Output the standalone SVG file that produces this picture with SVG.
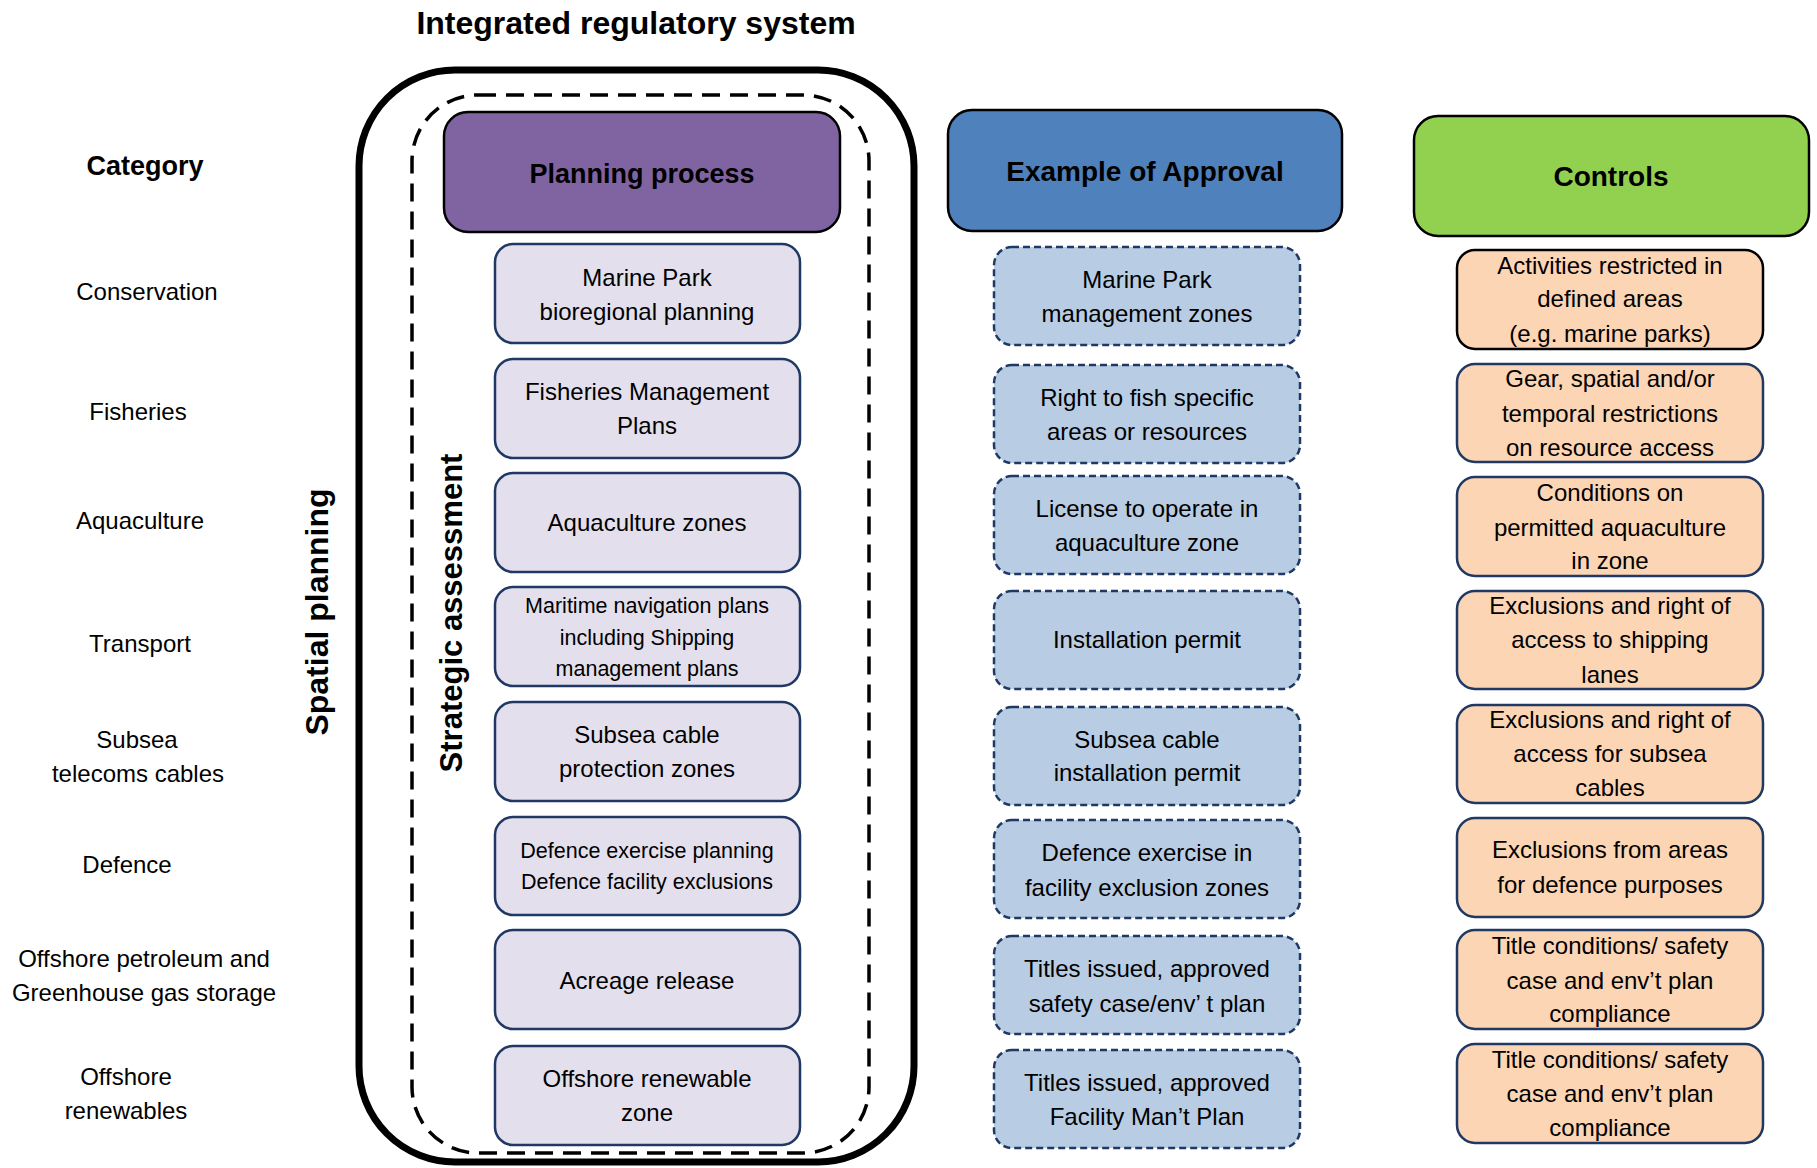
<svg xmlns="http://www.w3.org/2000/svg" width="1817" height="1168" viewBox="0 0 1817 1168">
<style>
text{font-family:"Liberation Sans",Arial,sans-serif;fill:#000;text-anchor:middle}
.b{font-weight:bold}
.t{font-size:24px}
.s{font-size:21.5px}
.c{font-size:24px}
.h{font-size:28px;font-weight:bold}
.proc{fill:#E4DFEC;stroke:#1F3864;stroke-width:2.5}
.appr{fill:#B8CCE4;stroke:#1F3864;stroke-width:2.5;stroke-dasharray:7 4}
.ctrl{fill:#FCD5B4;stroke:#1F3864;stroke-width:2.5}
.hdr{stroke:#000;stroke-width:2.5}
</style>
<rect width="1817" height="1168" fill="#fff"/>
<text x="636" y="34" class="b" style="font-size:32px">Integrated regulatory system</text>
<g id="outer-system"><rect x="359" y="70" width="555" height="1092" rx="96" fill="none" stroke="#000" stroke-width="7"/></g>
<g id="strategic-assessment-frame"><rect x="412" y="95" width="457" height="1058" rx="66" fill="none" stroke="#000" stroke-width="3.5" stroke-dasharray="18 10"/></g>
<g id="spatial-planning-label"><text transform="translate(328 612) rotate(-90)" class="b" style="font-size:32px">Spatial planning</text></g>
<g id="strategic-assessment-label"><text transform="translate(462 613) rotate(-90)" class="b" style="font-size:31px">Strategic assessment</text></g>

<g id="categories">
<text x="145" y="175" class="b" style="font-size:27px">Category</text>
<text x="147" y="300" class="c">Conservation</text>
<text x="138" y="420" class="c">Fisheries</text>
<text x="140" y="529" class="c">Aquaculture</text>
<text x="140" y="652" class="c">Transport</text>
<text x="137" y="748" class="c">Subsea</text>
<text x="138" y="782" class="c">telecoms cables</text>
<text x="127" y="873" class="c">Defence</text>
<text x="144" y="967" class="c">Offshore petroleum and</text>
<text x="144" y="1001" class="c">Greenhouse gas storage</text>
<text x="126" y="1085" class="c">Offshore</text>
<text x="126" y="1119" class="c">renewables</text>
</g>

<g id="planning-process-header"><rect x="444" y="112" width="396" height="120" rx="24" fill="#8064A2" class="hdr"/><text x="642" y="183" class="b" style="font-size:27px">Planning process</text></g>
<g id="approval-header"><rect x="948" y="110" width="394" height="121" rx="24" fill="#4F81BD" class="hdr"/><text x="1145" y="181" class="h">Example of Approval</text></g>
<g id="controls-header"><rect x="1414" y="116" width="395" height="120" rx="24" fill="#92D050" class="hdr"/><text x="1611" y="186" class="h">Controls</text></g>

<g id="proc-1"><rect x="495" y="244" width="305" height="99" rx="18" class="proc"/><text x="647" y="286" class="t">Marine Park</text><text x="647" y="320" class="t">bioregional planning</text></g>
<g id="proc-2"><rect x="495" y="359" width="305" height="99" rx="18" class="proc"/><text x="647" y="400" class="t">Fisheries Management</text><text x="647" y="434" class="t">Plans</text></g>
<g id="proc-3"><rect x="495" y="473" width="305" height="99" rx="18" class="proc"/><text x="647" y="531" class="t">Aquaculture zones</text></g>
<g id="proc-4"><rect x="495" y="587" width="305" height="99" rx="18" class="proc"/><text x="647" y="613" class="s">Maritime navigation plans</text><text x="647" y="645" class="s">including Shipping</text><text x="647" y="676" class="s">management plans</text></g>
<g id="proc-5"><rect x="495" y="702" width="305" height="99" rx="18" class="proc"/><text x="647" y="743" class="t">Subsea cable</text><text x="647" y="777" class="t">protection zones</text></g>
<g id="proc-6"><rect x="495" y="817" width="305" height="98" rx="18" class="proc"/><text x="647" y="858" class="s">Defence exercise planning</text><text x="647" y="889" class="s">Defence facility exclusions</text></g>
<g id="proc-7"><rect x="495" y="930" width="305" height="99" rx="18" class="proc"/><text x="647" y="989" class="t">Acreage release</text></g>
<g id="proc-8"><rect x="495" y="1046" width="305" height="99" rx="18" class="proc"/><text x="647" y="1087" class="t">Offshore renewable</text><text x="647" y="1121" class="t">zone</text></g>

<g id="appr-1"><rect x="994" y="247" width="306" height="98" rx="18" class="appr"/><text x="1147" y="288" class="t">Marine Park</text><text x="1147" y="322" class="t">management zones</text></g>
<g id="appr-2"><rect x="994" y="365" width="306" height="98" rx="18" class="appr"/><text x="1147" y="406" class="t">Right to fish specific</text><text x="1147" y="440" class="t">areas or resources</text></g>
<g id="appr-3"><rect x="994" y="476" width="306" height="98" rx="18" class="appr"/><text x="1147" y="517" class="t">License to operate in</text><text x="1147" y="551" class="t">aquaculture zone</text></g>
<g id="appr-4"><rect x="994" y="591" width="306" height="98" rx="18" class="appr"/><text x="1147" y="648" class="t">Installation permit</text></g>
<g id="appr-5"><rect x="994" y="707" width="306" height="98" rx="18" class="appr"/><text x="1147" y="748" class="t">Subsea cable</text><text x="1147" y="781" class="t">installation permit</text></g>
<g id="appr-6"><rect x="994" y="820" width="306" height="98" rx="18" class="appr"/><text x="1147" y="861" class="t">Defence exercise in</text><text x="1147" y="896" class="t">facility exclusion zones</text></g>
<g id="appr-7"><rect x="994" y="936" width="306" height="98" rx="18" class="appr"/><text x="1147" y="977" class="t">Titles issued, approved</text><text x="1147" y="1012" class="t">safety case/env’ t plan</text></g>
<g id="appr-8"><rect x="994" y="1050" width="306" height="98" rx="18" class="appr"/><text x="1147" y="1091" class="t">Titles issued, approved</text><text x="1147" y="1125" class="t">Facility Man’t Plan</text></g>

<g id="ctrl-1"><rect x="1457" y="250" width="306" height="99" rx="18" class="ctrl" style="stroke:#000"/><text x="1610" y="274" class="t">Activities restricted in</text><text x="1610" y="307" class="t">defined areas</text><text x="1610" y="342" class="t">(e.g. marine parks)</text></g>
<g id="ctrl-2"><rect x="1457" y="364" width="306" height="98" rx="18" class="ctrl"/><text x="1610" y="387" class="t">Gear, spatial and/or</text><text x="1610" y="422" class="t">temporal restrictions</text><text x="1610" y="456" class="t">on resource access</text></g>
<g id="ctrl-3"><rect x="1457" y="477" width="306" height="99" rx="18" class="ctrl"/><text x="1610" y="501" class="t">Conditions on</text><text x="1610" y="536" class="t">permitted aquaculture</text><text x="1610" y="569" class="t">in zone</text></g>
<g id="ctrl-4"><rect x="1457" y="591" width="306" height="98" rx="18" class="ctrl"/><text x="1610" y="614" class="t">Exclusions and right of</text><text x="1610" y="648" class="t">access to shipping</text><text x="1610" y="683" class="t">lanes</text></g>
<g id="ctrl-5"><rect x="1457" y="705" width="306" height="98" rx="18" class="ctrl"/><text x="1610" y="728" class="t">Exclusions and right of</text><text x="1610" y="762" class="t">access for subsea</text><text x="1610" y="796" class="t">cables</text></g>
<g id="ctrl-6"><rect x="1457" y="818" width="306" height="99" rx="18" class="ctrl"/><text x="1610" y="858" class="t">Exclusions from areas</text><text x="1610" y="893" class="t">for defence purposes</text></g>
<g id="ctrl-7"><rect x="1457" y="930" width="306" height="99" rx="18" class="ctrl"/><text x="1610" y="954" class="t">Title conditions/ safety</text><text x="1610" y="989" class="t">case and env’t plan</text><text x="1610" y="1022" class="t">compliance</text></g>
<g id="ctrl-8"><rect x="1457" y="1044" width="306" height="99" rx="18" class="ctrl"/><text x="1610" y="1068" class="t">Title conditions/ safety</text><text x="1610" y="1102" class="t">case and env’t plan</text><text x="1610" y="1136" class="t">compliance</text></g>
<g id="connectors"/>
</svg>
